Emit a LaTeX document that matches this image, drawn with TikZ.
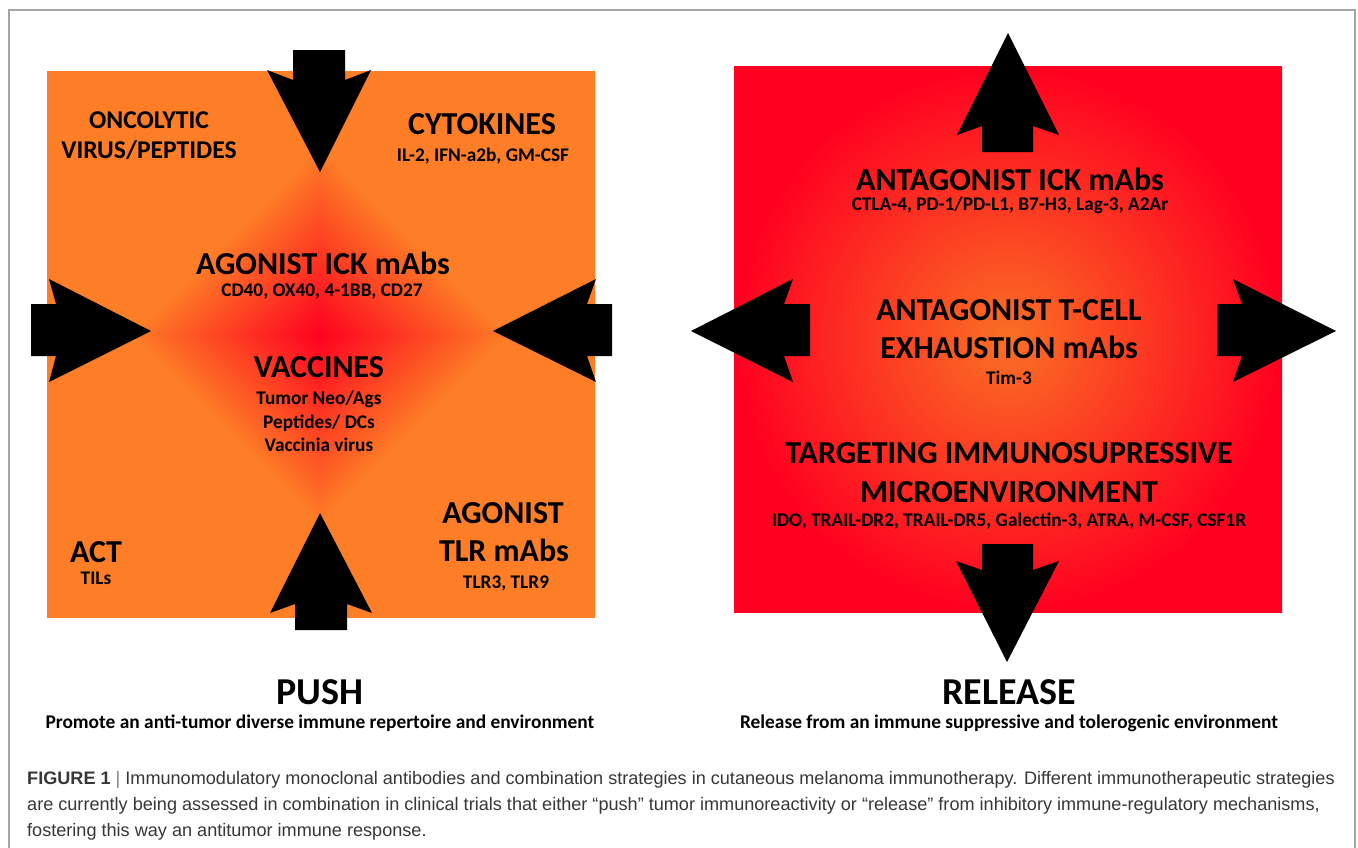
\documentclass[tikz,border=0pt]{standalone}
\usepackage{fontspec}
\setmainfont{Carlito}
\newfontfamily\capfont{Liberation Sans}
\usepackage{tikz}

\definecolor{pushorange}{RGB}{253,126,38}
\definecolor{pushred}{RGB}{255,0,32}
\definecolor{relred}{RGB}{255,0,32}
\definecolor{relorange}{RGB}{250,112,36}
\definecolor{framegray}{RGB}{165,165,165}
\definecolor{capgray}{RGB}{55,55,55}

\tikzset{
  head/.style={inner sep=0pt,text height=20.2pt,text depth=0pt,font=\fontsize{32}{32}\selectfont\bfseries},
  headsm/.style={inner sep=0pt,text height=16.2pt,text depth=0pt,font=\fontsize{25.6}{25.6}\selectfont\bfseries},
  sub/.style={inner sep=0pt,text height=12.2pt,text depth=0pt,font=\fontsize{19.3}{19.3}\selectfont\bfseries},
  title/.style={inner sep=0pt,text height=24pt,text depth=0pt,font=\fontsize{38}{38}\selectfont\bfseries},
  tagline/.style={inner sep=0pt,text height=12.2pt,text depth=0pt,font=\fontsize{19.4}{19.4}\selectfont\bfseries},
  capline/.style={inner sep=0pt,anchor=base west,text=capgray,font=\capfont\fontsize{18.1}{18.1}\selectfont},
  blockarrow/.style={fill=black}
}

\begin{document}
\begin{tikzpicture}[x=1pt,y=-1pt]
\useasboundingbox (0,0) rectangle (1358,847);
\fill[white] (0,0) rectangle (1358,847);
\draw[framegray,line width=1.3pt] (9,850) -- (9,10) -- (1355,10) -- (1355,850);

% push box
\fill[pushorange] (47,71) rectangle (595,618);
\begin{scope}
\clip (47,71) rectangle (595,618);
\foreach \r in {188,184,...,2}{
  \pgfmathsetmacro\pct{100*(1-\r/192)}
  \fill[pushred!\pct!pushorange] ({320-\r},335) -- (320,{335-\r}) -- ({320+\r},335) -- (320,{335+\r}) -- cycle;
}
\end{scope}

% release box
\shade[inner color=relorange,outer color=relred] (734,66) rectangle (1282,612);

% push arrows
\fill[blockarrow] (293,50) -- (345,50) -- (345,80) -- (371,70) -- (320,172) -- (267,70) -- (293,80) -- cycle;
\fill[blockarrow] (295,630) -- (347,630) -- (347,604) -- (372,613) -- (320,513) -- (270,613) -- (295,604) -- cycle;
\fill[blockarrow] (31,304) -- (56,304) -- (49,279) -- (151,331) -- (49,382) -- (56,356) -- (31,356) -- cycle;
\fill[blockarrow] (612,304) -- (587,304) -- (596,279) -- (493,331) -- (596,382) -- (587,356) -- (612,356) -- cycle;

% release arrows
\fill[blockarrow] (982,152) -- (982,126) -- (957,135) -- (1008,33) -- (1059,135) -- (1033,126) -- (1033,152) -- cycle;
\fill[blockarrow] (982,544) -- (1033,544) -- (1033,570) -- (1059,561) -- (1007,662) -- (956,561) -- (982,570) -- cycle;
\fill[blockarrow] (810,304) -- (784,304) -- (793,279) -- (691,331) -- (793,382) -- (784,356) -- (810,356) -- cycle;
\fill[blockarrow] (1217,304) -- (1242,304) -- (1233,279) -- (1336,331) -- (1233,382) -- (1242,356) -- (1217,356) -- cycle;

% push texts
\node[headsm] (onco1) at (149,120) {ONCOLYTIC};
\node[headsm] (onco2) at (149,150) {VIRUS/PEPTIDES};
\node[head] (cyto) at (482,124) {CYTOKINES};
\node[sub] (cytolist) at (483,155) {IL-2, IFN-a2b, GM-CSF};
\node[head] (agoick) at (323,264) {AGONIST ICK mAbs};
\node[sub] (agoicklist) at (322,290) {CD40, OX40, 4-1BB, CD27};
\node[head] (vacc) at (319,367) {VACCINES};
\node[sub] (vacc1) at (319,398) {Tumor Neo/Ags};
\node[sub] (vacc2) at (319,422) {Peptides/ DCs};
\node[sub] (vacc3) at (319,445) {Vaccinia virus};
\node[head] (act) at (96,552) {ACT};
\node[sub] (actlist) at (96,578) {TILs};
\node[head] (agotlr1) at (503,513) {AGONIST};
\node[head] (agotlr2) at (504,551) {TLR mAbs};
\node[sub] (agotlrlist) at (506,582) {TLR3, TLR9};

% release texts
\node[head] (antick) at (1010,180) {ANTAGONIST ICK mAbs};
\node[sub] (anticklist) at (1010,204) {CTLA-4, PD-1/PD-L1, B7-H3, Lag-3, A2Ar};
\node[head] (antexh1) at (1009,310) {ANTAGONIST T-CELL};
\node[head] (antexh2) at (1009,348) {EXHAUSTION mAbs};
\node[sub] (antexhlist) at (1009,378) {Tim-3};
\node[head] (target1) at (1009,453) {TARGETING IMMUNOSUPRESSIVE};
\node[head] (target2) at (1009,492) {MICROENVIRONMENT};
\node[sub] (targetlist) at (1009,520) {IDO, TRAIL-DR2, TRAIL-DR5, Galectin-3, ATRA, M-CSF, CSF1R};

% titles
\node[title] (push) at (320,692) {PUSH};
\node[tagline] (pushtag) at (320,722) {Promote an anti-tumor diverse immune repertoire and environment};
\node[title] (release) at (1009,692) {RELEASE};
\node[tagline] (reltag) at (1009,722) {Release from an immune suppressive and tolerogenic environment};

% caption
\node[capline] (cap1) at (27,784) {\textbf{FIGURE 1} {\color{gray}|} Immunomodulatory monoclonal antibodies and combination strategies in cutaneous melanoma immunotherapy. Different immunotherapeutic strategies};
\node[capline] (cap2) at (27,810) {are currently being assessed in combination in clinical trials that either “push” tumor immunoreactivity or “release” from inhibitory immune-regulatory mechanisms,};
\node[capline] (cap3) at (27,836) {fostering this way an antitumor immune response.};
\end{tikzpicture}
\end{document}
